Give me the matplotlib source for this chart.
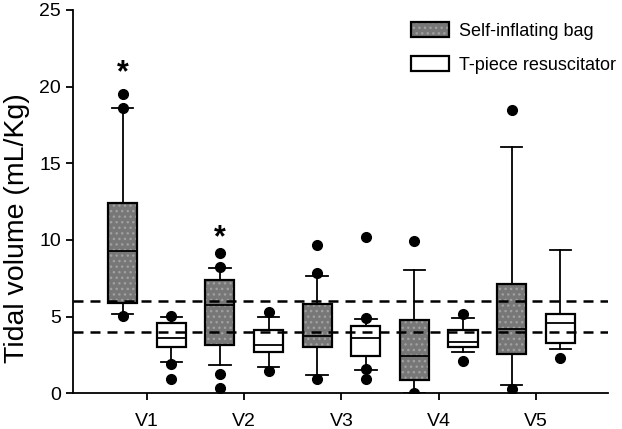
import matplotlib
matplotlib.use("Agg")
import matplotlib.pyplot as plt
from matplotlib.legend_handler import HandlerTuple

plt.rcParams['font.family'] = ['Liberation Sans', 'DejaVu Sans']

# visits on the x axis
visits = ["V1", "V2", "V3", "V4", "V5"]

# Self-inflating bag (mL/Kg)
sib_lo = [5.17, 1.85, 1.19, 0.04, 0.54]
sib_q1 = [5.91, 3.13, 3.02, 0.89, 2.58]
sib_med = [9.28, 5.76, 3.72, 2.45, 4.19]
sib_q3 = [12.43, 7.39, 5.84, 4.80, 7.15]
sib_hi = [18.59, 8.17, 7.63, 8.04, 16.09]
sib_fliers = [[19.54, 18.6, 5.04], [9.14, 8.22, 1.24, 0.33], [9.65, 7.83, 0.93],
              [9.93, 0.0], [18.47, 0.26]]

# T-piece resuscitator
tpr_lo = [2.06, 1.74, 1.52, 2.67, 2.91]
tpr_q1 = [3.02, 2.71, 2.45, 3.02, 3.26]
tpr_med = [3.59, 3.15, 3.61, 3.33, 4.61]
tpr_q3 = [4.57, 4.13, 4.39, 4.13, 5.15]
tpr_hi = [4.96, 4.96, 4.85, 4.93, 9.35]
tpr_fliers = [[5.07, 1.91, 0.92], [5.28, 1.48], [10.22, 4.93, 1.57, 0.93],
              [5.19, 2.13], [2.33]]

# significance marks (SIB, visit index, height)
stars = [(0, 20.9), (1, 10.1)]
ref_lines = [4, 6]


def make_stats(lo, q1, med, q3, hi, fl):
    return [dict(whislo=a, q1=b, med=c, q3=d, whishi=e, fliers=f)
            for a, b, c, d, e, f in zip(lo, q1, med, q3, hi, fl)]


sib = make_stats(sib_lo, sib_q1, sib_med, sib_q3, sib_hi, sib_fliers)
tpr = make_stats(tpr_lo, tpr_q1, tpr_med, tpr_q3, tpr_hi, tpr_fliers)

fig = plt.figure(figsize=(6.22, 4.29), dpi=100)
ax = fig.add_axes([0.1174, 0.0832, 0.8601, 0.8935])

pos = range(1, len(visits) + 1)
off = 0.25
w = 0.3
lw = 1.3
flier = dict(marker='o', markerfacecolor='black', markeredgecolor='black', markersize=7)
hidden = dict(visible=False)

# dotted grey fill of the SIB boxes
fill = ax.bxp(sib, positions=[p - off for p in pos], widths=w, patch_artist=True,
              showfliers=False, showcaps=False,
              boxprops=dict(facecolor='#777777', edgecolor='#a0a0a0', hatch='...', linewidth=0.5),
              whiskerprops=hidden, medianprops=hidden)
# outlines, whiskers, medians
b1 = ax.bxp(sib, positions=[p - off for p in pos], widths=w, patch_artist=True,
            capwidths=0.22, flierprops=flier,
            boxprops=dict(facecolor='none', edgecolor='black', linewidth=1.6),
            whiskerprops=dict(color='black', linewidth=lw),
            capprops=dict(color='black', linewidth=lw),
            medianprops=dict(color='black', linewidth=lw))
b2 = ax.bxp(tpr, positions=[p + off for p in pos], widths=w, patch_artist=True,
            capwidths=0.22, flierprops=flier,
            boxprops=dict(facecolor='white', edgecolor='black', linewidth=1.6),
            whiskerprops=dict(color='black', linewidth=lw),
            capprops=dict(color='black', linewidth=lw),
            medianprops=dict(color='black', linewidth=lw))

for y in ref_lines:
    ax.axhline(y, color='black', lw=1.8, ls=(0, (4, 2.8)), zorder=5)

for i, h in stars:
    ax.text(pos[i] - off, h, '*', ha='center', va='center', fontsize=22, fontweight='bold')

ax.set_xlim(0.24, 5.74)
ax.set_ylim(0, 25)
ax.set_xticks(list(pos))
ax.set_xticklabels(visits)
ax.set_yticks([0, 5, 10, 15, 20, 25])
ax.spines['top'].set_visible(False)
ax.spines['right'].set_visible(False)
ax.spines['left'].set_linewidth(1.3)
ax.spines['bottom'].set_linewidth(1.3)
ax.tick_params(direction='out', length=5, width=1.3, labelsize=14)
ax.tick_params(axis='x', pad=9)
ax.set_ylabel('Tidal volume (mL/Kg)', fontsize=20.5)
ax.yaxis.set_label_coords(-0.080, 0.431)

ax.legend([(fill['boxes'][0], b1['boxes'][0]), b2['boxes'][0]],
          ['Self-inflating bag', 'T-piece resuscitator'],
          handler_map={tuple: HandlerTuple(ndivide=1)},
          loc='upper left', bbox_to_anchor=(0.602, 1.01), frameon=False,
          fontsize=13, handlelength=2.1, handleheight=0.9, handletextpad=0.55,
          labelspacing=0.9)

fig.savefig('out.png', dpi=100)
